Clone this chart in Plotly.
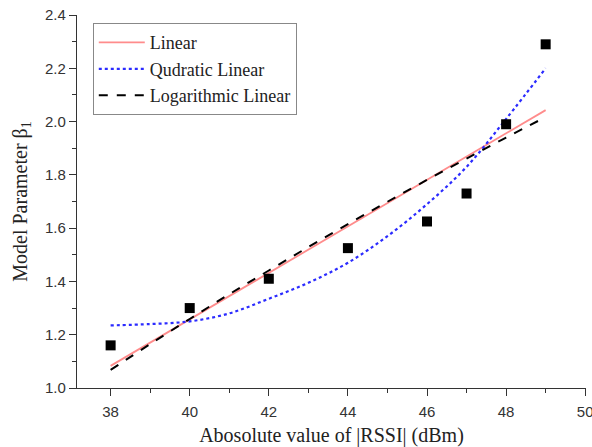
import plotly.graph_objects as go

# measured data points
rssi = [38, 40, 42, 44, 46, 47, 48, 49]
beta1 = [1.16, 1.30, 1.41, 1.525, 1.625, 1.73, 1.99, 2.29]

# fitted curves at integer x
x_fit = [38, 39, 40, 41, 42, 43, 44, 45, 46, 47, 48, 49]
linear_fit = [1.083, 1.170, 1.258, 1.345, 1.432, 1.519, 1.607, 1.694, 1.781, 1.868, 1.956, 2.043]
quad_fit = [1.235, 1.24, 1.25, 1.28, 1.335, 1.395, 1.47, 1.57, 1.69, 1.83, 2.01, 2.20]
log_fit = [1.068, 1.165, 1.259, 1.352, 1.441, 1.529, 1.615, 1.699, 1.781, 1.861, 1.940, 2.017]

x_ticks = [38, 40, 42, 44, 46, 48, 50]
y_ticks = [1.0, 1.2, 1.4, 1.6, 1.8, 2.0, 2.2, 2.4]

fig = go.Figure()
fig.add_trace(go.Scatter(x=x_fit, y=linear_fit, mode="lines", name="Linear",
                         line=dict(color="#ff8c8c", width=1.8)))
fig.add_trace(go.Scatter(x=x_fit, y=quad_fit, mode="lines", name="Qudratic Linear",
                         line=dict(color="#2b2bff", width=2.2, dash="dot", shape="spline")))
fig.add_trace(go.Scatter(x=x_fit, y=log_fit, mode="lines", name="Logarithmic Linear",
                         line=dict(color="black", width=2, dash="dash", shape="spline")))
fig.add_trace(go.Scatter(x=rssi, y=beta1, mode="markers", showlegend=False,
                         marker=dict(symbol="square", size=10, color="black")))

serif = "Liberation Serif, Times New Roman"
axis_common = dict(showline=True, linecolor="#333333", linewidth=1.2, ticks="outside",
                   ticklen=7, tickcolor="#333333", showgrid=False, zeroline=False,
                   mirror=False, automargin=False, ticklabeloverflow="allow",
                   tickfont=dict(family="Liberation Sans, Arial", size=15, color="#333333"),
                   title_font=dict(family=serif, size=20, color="#222222"))

fig.update_xaxes(range=[37.15, 50.02], tickvals=x_ticks, ticktext=[str(v) for v in x_ticks],
                 minor=dict(dtick=1, ticks="outside", ticklen=4, tickcolor="#333333"),
                 ticklabelstandoff=3,
                 title_text="Abosolute value of |RSSI| (dBm)", title_standoff=8, **axis_common)
fig.update_yaxes(range=[1.0, 2.4], tickvals=y_ticks, ticktext=[f"{v:.1f}" for v in y_ticks],
                 minor=dict(dtick=0.1, ticks="outside", ticklen=4, tickcolor="#333333"),
                 title_text="Model Parameter β<sub>1</sub>", title_standoff=12, **axis_common)

fig.update_layout(
    width=592, height=447,
    margin=dict(l=77, r=6, t=15, b=59),
    plot_bgcolor="white", paper_bgcolor="white",
    legend=dict(x=0.031, y=0.978, xanchor="left", yanchor="top",
                bordercolor="#888888", borderwidth=1, bgcolor="white",
                font=dict(family=serif, size=18, color="#222222"),
                tracegroupgap=0, itemwidth=46),
)

# remove the browser's default 8px body margin so the figure fills the window
fig.write_html("out.html", config={"displayModeBar": False},
               post_script="document.body.style.margin='0';document.body.style.overflow='hidden';")
